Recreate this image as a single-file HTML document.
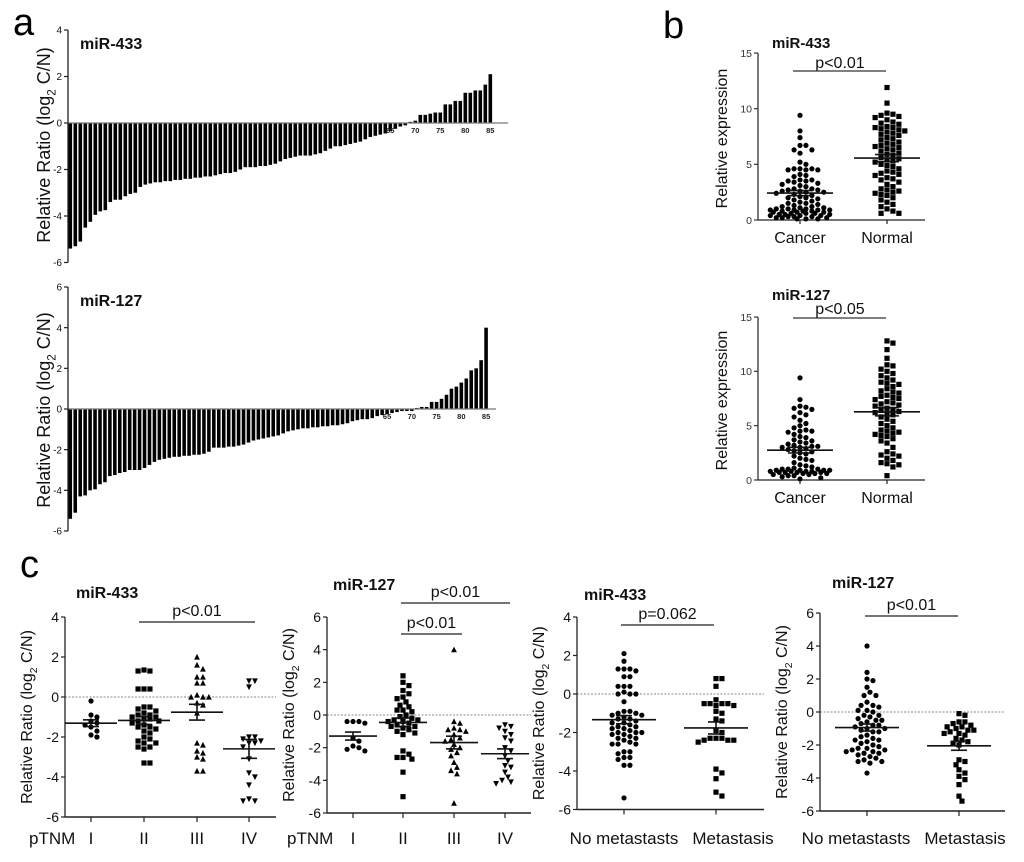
<!DOCTYPE html>
<html><head><meta charset="utf-8"><style>
html,body{margin:0;padding:0;background:#fff;}
svg{display:block;font-family:"Liberation Sans",Arial,sans-serif;}
</style></head><body>
<svg id="fig" width="1024" height="862" viewBox="0 0 1024 862" xmlns="http://www.w3.org/2000/svg">
<rect x="0" y="0" width="1024" height="862" fill="#fff"/>
<text x="13" y="35" font-size="38">a</text>
<text x="663" y="38" font-size="38">b</text>
<text x="20" y="577" font-size="38">c</text>
</svg>
<script>
// ---------- DATA ----------
const waterfall433 = [-5.4,-5.3,-5.1,-4.5,-4.25,-3.95,-3.8,-3.75,-3.4,-3.3,-3.3,-3.15,-3.05,-3.0,-2.75,-2.65,-2.6,-2.55,-2.55,-2.5,-2.5,-2.45,-2.45,-2.4,-2.4,-2.35,-2.35,-2.3,-2.3,-2.25,-2.2,-2.15,-2.15,-2.1,-2.0,-1.9,-1.9,-1.9,-1.85,-1.85,-1.8,-1.75,-1.65,-1.55,-1.5,-1.45,-1.4,-1.4,-1.4,-1.35,-1.3,-1.2,-1.1,-1.0,-1.0,-0.95,-0.9,-0.85,-0.8,-0.7,-0.6,-0.55,-0.5,-0.45,-0.35,-0.25,-0.15,-0.1,0.05,0.1,0.35,0.35,0.4,0.45,0.45,0.8,0.8,0.95,0.95,1.3,1.3,1.4,1.4,1.65,2.1];
const waterfall127 = [-5.4,-5.1,-4.3,-4.25,-4.0,-3.95,-3.7,-3.6,-3.3,-3.25,-3.15,-3.1,-3.0,-3.0,-3.0,-2.9,-2.75,-2.6,-2.5,-2.45,-2.4,-2.35,-2.35,-2.3,-2.3,-2.25,-2.25,-2.2,-2.1,-1.9,-1.9,-1.9,-1.85,-1.85,-1.8,-1.75,-1.65,-1.55,-1.5,-1.45,-1.4,-1.35,-1.3,-1.2,-1.1,-1.05,-1.0,-0.95,-0.95,-0.9,-0.9,-0.85,-0.85,-0.8,-0.8,-0.75,-0.7,-0.6,-0.55,-0.5,-0.5,-0.45,-0.35,-0.3,-0.25,-0.2,-0.15,-0.1,-0.1,-0.1,0.05,0.1,0.1,0.35,0.35,0.5,0.7,1.0,1.1,1.3,1.5,1.9,2.0,2.4,4.0];
const waterfallTicks = [-6,-4,-2,0,2,4];
const waterfall127Ticks = [-6,-4,-2,0,2,4,6];
const waterfallXLabels = [65,70,75,80,85];

const b433Cancer = [9.4,8.0,7.4,6.7,6.7,6.3,6.3,6.0,5.2,5.0,4.6,4.6,4.6,4.5,4.5,4.5,4.0,3.9,3.6,3.6,3.5,3.5,3.3,3.2,3.1,3.0,2.8,2.8,2.7,2.7,2.6,2.6,2.5,2.5,2.4,2.3,2.2,2.0,2.0,1.9,1.8,1.7,1.6,1.5,1.4,1.3,1.2,1.1,1.0,1.0,1.0,0.9,0.9,0.9,0.8,0.8,0.8,0.7,0.7,0.7,0.6,0.6,0.6,0.5,0.5,0.5,0.4,0.4,0.4,0.3,0.3,0.3,0.2,0.2,0.2,0.1,0.1,0.1,1.2,1.5,2.1,3.4,4.1,0.9,1.1];
const b433Normal = [11.9,10.5,9.6,9.5,9.3,9.2,9.0,8.7,8.6,8.4,8.3,8.2,8.1,8.0,7.8,7.6,7.4,7.3,7.2,7.0,6.8,6.6,6.5,6.4,6.2,6.0,5.8,5.6,5.4,5.2,5.0,4.8,4.6,4.4,4.3,4.2,4.0,3.8,3.6,3.4,3.2,3.0,2.8,2.6,2.5,2.4,2.2,2.0,1.8,1.6,1.4,1.2,1.0,0.8,0.6,0.6,7.9,8.8,6.3,5.5,4.1,3.7,2.7,6.9,9.4,5.9,4.9,6.7,7.7,8.3,5.3,2.3];
const b127Cancer = [9.4,7.4,6.8,6.7,6.6,6.5,6.0,5.8,5.5,5.2,4.6,4.5,4.5,4.4,4.2,4.0,3.9,3.6,3.4,3.3,3.2,3.1,3.1,3.0,3.0,2.9,2.8,2.6,2.4,2.2,2.0,1.8,1.6,1.4,1.2,1.1,1.0,1.0,1.0,0.9,0.9,0.9,0.8,0.8,0.8,0.7,0.7,0.7,0.6,0.6,0.5,0.5,0.4,0.3,0.2,0.1,6.2,5.0,3.7,2.5,1.3,0.9,0.8,0.6,4.8,3.5,2.7,1.9,0.7,0.4];
const b127Normal = [12.8,12.6,12.0,11.2,10.6,10.5,10.0,9.8,9.6,9.4,9.0,8.8,8.6,8.4,8.2,8.0,7.8,7.6,7.5,7.4,7.2,7.0,6.8,6.6,6.5,6.4,6.2,6.0,5.8,5.6,5.4,5.0,4.8,4.6,4.4,4.3,4.2,4.0,3.8,3.6,3.4,3.0,2.6,2.4,2.2,2.0,1.8,1.6,1.4,1.2,0.4,8.1,7.1,6.3,5.2,4.5,9.2,7.7,6.9,6.1,4.1,2.3,1.5,10.2,8.9];

const c1_I = [-0.2,-0.9,-1.0,-1.2,-1.3,-1.4,-1.5,-1.7,-1.9,-2.0];
const c1_II = [1.3,1.3,1.35,0.4,0.4,0.4,-0.5,-0.5,-0.6,-0.7,-0.8,-0.9,-1.0,-1.0,-1.1,-1.1,-1.2,-1.2,-1.3,-1.4,-1.5,-1.6,-1.7,-1.8,-2.0,-2.1,-2.2,-2.3,-2.3,-2.5,-2.5,-2.6,-3.3,-3.3,-0.9,-1.5];
const c1_III = [2.0,1.6,1.4,1.0,1.0,0.7,0.7,0.1,0.0,0.0,-0.3,-0.4,-0.8,-2.3,-2.4,-2.7,-2.8,-3.0,-3.1,-3.7,-3.7,0.0];
const c1_IV = [0.8,0.8,0.5,-2.0,-2.0,-2.1,-2.2,-2.3,-2.3,-2.5,-3.1,-3.8,-4.0,-4.4,-5.1,-5.2,-5.2];
const c2_I = [-0.4,-0.4,-0.4,-0.5,-1.4,-1.6,-1.9,-2.0,-2.1,-2.2];
const c2_II = [2.4,2.0,1.8,1.5,1.3,1.1,1.0,0.8,0.6,0.5,0.3,0.2,0.0,-0.1,-0.2,-0.3,-0.4,-0.5,-0.6,-0.7,-0.8,-0.9,-1.0,-1.1,-1.2,-2.2,-2.4,-2.6,-2.6,-2.7,-3.5,-5.0,-0.4,-0.3,-0.7,0.3];
const c2_III = [4.0,-0.4,-0.5,-0.8,-0.9,-1.0,-1.2,-1.4,-1.5,-1.6,-1.8,-2.0,-2.1,-2.3,-2.5,-2.9,-3.2,-3.4,-3.6,-5.4,-0.9];
const c2_IV = [-0.6,-0.7,-0.8,-1.0,-1.2,-1.4,-1.6,-2.0,-2.2,-2.5,-2.8,-3.1,-3.2,-3.5,-3.8,-4.0,-4.1,-4.2];
const c3_NoMet = [2.1,1.7,1.3,1.3,1.3,1.2,0.9,0.9,0.4,0.4,0.4,0.1,0.0,0.0,-0.4,-0.9,-0.9,-1.0,-1.0,-1.1,-1.1,-1.2,-1.3,-1.3,-1.4,-1.5,-1.5,-1.6,-1.7,-1.7,-1.8,-1.8,-1.9,-2.0,-2.0,-2.1,-2.1,-2.2,-2.3,-2.3,-2.4,-2.5,-2.6,-2.6,-3.0,-3.0,-3.1,-3.3,-3.3,-3.4,-3.7,-3.7,-5.4,0.0,-2.6,-2.0];
const c3_Met = [0.8,0.8,0.4,-0.3,-0.5,-0.5,-0.6,-0.5,-0.6,-0.5,-0.9,-1.0,-1.3,-1.4,-1.9,-2.0,-2.3,-2.3,-2.4,-2.4,-2.5,-2.4,-2.3,-3.9,-4.1,-4.4,-5.1,-5.3];
const c4_NoMet = [4.0,2.4,2.0,1.9,1.5,1.2,1.0,1.0,0.6,0.4,0.4,0.3,0.1,0.1,0.0,-0.2,-0.2,-0.4,-0.5,-0.5,-0.6,-0.7,-0.8,-0.8,-0.9,-1.0,-1.0,-1.1,-1.2,-1.2,-1.4,-1.5,-1.6,-1.7,-1.7,-1.8,-2.0,-2.1,-2.2,-2.2,-2.3,-2.3,-2.4,-2.4,-2.5,-2.5,-2.6,-2.7,-2.8,-2.9,-3.0,-3.0,-3.1,-3.7,-1.9,-0.3];
const c4_Met = [-0.1,-0.2,-0.6,-0.6,-0.7,-0.8,-0.9,-0.9,-1.0,-1.1,-1.2,-1.3,-1.4,-1.6,-1.7,-1.8,-1.9,-2.0,-2.9,-3.0,-3.2,-3.5,-3.7,-3.9,-4.1,-4.4,-5.1,-5.4,-1.3,-1.1];

const bTicks = [0,5,10,15];
const c433Ticks = [-6,-4,-2,0,2,4];
const c127Ticks = [-6,-4,-2,0,2,4,6];
const pTNMLabels = ['I','II','III','IV'];
const metLabels = ['No metastasts','Metastasis'];
const bLabels = ['Cancer','Normal'];

// ---------- HELPERS ----------
const NS = 'http://www.w3.org/2000/svg';
const svg = document.getElementById('fig');
function mk(tag, name, parent) {
  const e = document.createElementNS(NS, tag);
  
  
  (parent || svg).appendChild(e);
  return e;
}
function set(e, o) { for (const k in o) e.setAttribute(k, o[k]); return e; }
function lin(d0, d1, r0, r1) { return v => r0 + (v - d0) * (r1 - r0) / (d1 - d0); }
function line(x1, y1, x2, y2, name, stroke, w, dash) {
  const l = mk('line', name);
  set(l, {x1, y1, x2, y2, stroke: stroke || '#222', 'stroke-width': w || 1.3});
  if (dash) l.setAttribute('stroke-dasharray', dash);
  return l;
}
function txt(x, y, s, size, name, anchor, weight, fill) {
  const t = mk('text', name);
  set(t, {x, y, 'font-size': size, 'text-anchor': anchor || 'start', fill: fill || '#111'});
  if (weight) t.setAttribute('font-weight', weight);
  t.textContent = s;
  return t;
}
function ratioTitle(cx, cy, size, name) {
  const t = mk('text', name);
  set(t, {x: 0, y: 0, 'font-size': size, 'text-anchor': 'middle', fill: '#111', transform: `translate(${cx},${cy}) rotate(-90)`});
  const a = document.createElementNS(NS, 'tspan'); a.textContent = 'Relative Ratio (log'; t.appendChild(a);
  const s = document.createElementNS(NS, 'tspan'); s.textContent = '2'; set(s, {dy: size * 0.3, 'font-size': size * 0.65}); t.appendChild(s);
  const c = document.createElementNS(NS, 'tspan'); c.textContent = ' C/N)'; set(c, {dy: -size * 0.3}); t.appendChild(c);
  return t;
}
function yAxis(x, ys, ticks, fs, name, col) {
  line(x, ys(ticks[0]), x, ys(ticks[ticks.length - 1]), name + '-line', col || '#222', 1.3);
  ticks.forEach(v => {
    line(x - 4, ys(v), x, ys(v), name + '-tick', col || '#222', 1.2);
    txt(x - 6, ys(v) + fs * 0.36, String(v), fs, name + '-tick-label', 'end', null, col || '#111');
  });
}
function marker(shape, x, y, name) {
  const r = 2.6;
  let e;
  if (shape === 'circle') { e = mk('circle', name); set(e, {cx: x, cy: y, r: r}); }
  else if (shape === 'square') { e = mk('rect', name); set(e, {x: x - r, y: y - r, width: 2 * r, height: 2 * r}); }
  else if (shape === 'up') { e = mk('polygon', name); set(e, {points: `${x},${y - r - 0.5} ${x - r - 0.3},${y + r} ${x + r + 0.3},${y + r}`}); }
  else { e = mk('polygon', name); set(e, {points: `${x},${y + r + 0.5} ${x - r - 0.3},${y - r} ${x + r + 0.3},${y - r}`}); }
  e.setAttribute('fill', '#000');
}
function swarm(vals, cx, ys, d, shape, name, maxHalf) {
  const pts = vals.map(v => ({v, y: ys(v)})).sort((a, b) => a.y - b.y);
  const placed = [];
  const step = d * 0.55;
  const kmax = Math.floor(maxHalf / step) * 2 + 1;
  pts.forEach(p => {
    let best = null, bestD = -1;
    for (let k = 0; k < kmax; k++) {
      const off = (k % 2 ? 1 : -1) * Math.ceil(k / 2) * step;
      const x = cx + off;
      let md = Infinity;
      placed.forEach(q => { const dd = Math.hypot(q.x - x, q.y - p.y); if (dd < md) md = dd; });
      if (md >= d) { best = x; break; }
      if (md > bestD) { bestD = md; best = x; }
    }
    placed.push({x: best, y: p.y});
  });
  placed.forEach(p => marker(shape, p.x, p.y, name));
}
function meanSem(vals, cx, ys, wMean, wSem, name) {
  const n = vals.length, m = vals.reduce((a, b) => a + b, 0) / n;
  const sd = Math.sqrt(vals.reduce((a, b) => a + (b - m) ** 2, 0) / (n - 1)), se = sd / Math.sqrt(n);
  line(cx - wMean, ys(m), cx + wMean, ys(m), name + '-mean', '#111', 1.6);
  line(cx - wSem, ys(m + se), cx + wSem, ys(m + se), name + '-sem-upper', '#111', 1.6);
  line(cx - wSem, ys(m - se), cx + wSem, ys(m - se), name + '-sem-lower', '#111', 1.6);
  line(cx, ys(m + se), cx, ys(m - se), name + '-sem-stem', '#111', 1.6);
}

// ---------- PANEL A ----------
function waterfall(vals, ticks, ys, x0, step, xEnd, title, titleY, axTitleY, name) {
  txt(80, titleY, title, 16, name + '-title', 'start', 'bold');
  ratioTitle(50, axTitleY, 18, name + '-y-axis-title');
  vals.forEach((v, i) => {
    const b = mk('rect', name + '-bar');
    const y0 = ys(0), y1 = ys(v);
    set(b, {x: x0 + i * step, y: Math.min(y0, y1), width: step * 0.72, height: Math.max(0.6, Math.abs(y1 - y0)), fill: '#000'});
  });
  line(68, ys(0), xEnd, ys(0), name + '-x-axis', '#777', 1.2);
  yAxis(68, ys, ticks, 10, name + '-y-axis');
  waterfallXLabels.forEach(n => txt(x0 + (n - 1) * step + step * 0.36, ys(0) + 10, String(n), 7.5, name + '-x-tick-label', 'middle', 'bold', '#222'));
}
waterfall(waterfall433, waterfallTicks, lin(0, 4, 123, 30), 68.5, 5.0, 508, 'miR-433', 49, 145, 'bar-chart-mir433');
waterfall(waterfall127, waterfall127Ticks, lin(0, 6, 409, 287), 68.5, 4.95, 496, 'miR-127', 306, 410, 'bar-chart-mir127');

// ---------- PANEL B ----------
function bPanel(cancer, normal, ys, title, titleY, p, pY, lineY, name) {
  txt(772, titleY, title, 15, name + '-title', 'start', 'bold');
  txt(840, pY, p, 16, name + '-p-value', 'middle');
  line(793, lineY, 886, lineY, name + '-significance-bar', '#333', 1.2);
  const t = mk('text', name + '-y-axis-title');
  set(t, {x: 0, y: 0, 'font-size': 16, 'text-anchor': 'middle', fill: '#111', transform: `translate(727,${(ys(0) + ys(15)) / 2 + 2}) rotate(-90)`});
  t.textContent = 'Relative expression';
  yAxis(758, ys, bTicks, 10.5, name + '-y-axis', '#333');
  line(758, ys(0), 925, ys(0), name + '-x-axis', '#222', 1.3);
  [800, 887].forEach((cx, i) => {
    line(cx, ys(0), cx, ys(0) + 4, name + '-x-tick', '#222', 1.2);
    txt(cx, ys(0) + 23, bLabels[i], 16, name + '-x-tick-label', 'middle');
  });
  swarm(cancer, 800, ys, 5.4, 'circle', name + '-cancer-point', 30);
  swarm(normal, 887, ys, 5.4, 'square', name + '-normal-point', 30);
  meanSem(cancer, 800, ys, 33, 12, name + '-cancer');
  meanSem(normal, 887, ys, 33, 12, name + '-normal');
}
bPanel(b433Cancer, b433Normal, lin(0, 15, 220, 53), 'miR-433', 48, 'p<0.01', 68, 71, 'scatter-b-mir433');
bPanel(b127Cancer, b127Normal, lin(0, 15, 480, 317), 'miR-127', 300, 'p<0.05', 314, 318, 'scatter-b-mir127');

// ---------- PANEL C ----------
function cPanel(cfg) {
  const ys = cfg.ys, n = cfg.name;
  txt(cfg.titleX, cfg.titleY, cfg.title, 16, n + '-title', 'start', 'bold');
  ratioTitle(cfg.axX - 33, (ys(cfg.ticks[0]) + ys(cfg.ticks[cfg.ticks.length - 1])) / 2, 16, n + '-y-axis-title');
  line(cfg.axX, ys(0), cfg.axEnd, ys(0), n + '-zero-line', '#888', 1, '2,1.5');
  yAxis(cfg.axX, ys, cfg.ticks, 14, n + '-y-axis');
  line(cfg.axX, ys(cfg.ticks[0]), cfg.axEnd, ys(cfg.ticks[0]), n + '-x-axis', '#222', 1.4);
  cfg.groups.forEach((g, i) => {
    const cx = cfg.xs[i];
    line(cx, ys(cfg.ticks[0]), cx, ys(cfg.ticks[0]) + 5, n + '-x-tick', '#222', 1.2);
    txt(cfg.lx ? cfg.lx[i] : cx, 844, cfg.labels[i], 17, n + '-x-tick-label', 'middle');
    swarm(g, cx, ys, 5.4, cfg.shapes[i], n + '-point', cfg.half);
    meanSem(g, cx, ys, cfg.wMean, 8, n + '-group' + (i + 1));
  });
  if (cfg.prefix) txt(cfg.prefixX, 844, cfg.prefix, 17, n + '-x-label-prefix', 'start');
  cfg.sigs.forEach(s => {
    txt((s[0] + s[1]) / 2, s[2] - 6, s[3], 16, n + '-p-value', 'middle');
    line(s[0], s[2], s[1], s[2], n + '-significance-bar', '#222', 1.2);
  });
}
cPanel({name: 'scatter-c-pTNM-mir433', ys: lin(0, 4, 697, 617), ticks: c433Ticks, axX: 65, axEnd: 276,
  xs: [91, 144, 197, 249], groups: [c1_I, c1_II, c1_III, c1_IV], shapes: ['circle', 'square', 'up', 'down'],
  labels: pTNMLabels, prefix: 'pTNM', prefixX: 29, title: 'miR-433', titleX: 76, titleY: 598, wMean: 26, half: 16,
  sigs: [[139, 255, 622, 'p<0.01']]});
cPanel({name: 'scatter-c-pTNM-mir127', ys: lin(0, 6, 715, 617), ticks: c127Ticks, axX: 327, axEnd: 531,
  xs: [353, 403, 454, 505], groups: [c2_I, c2_II, c2_III, c2_IV], shapes: ['circle', 'square', 'up', 'down'],
  labels: pTNMLabels, prefix: 'pTNM', prefixX: 287, title: 'miR-127', titleX: 333, titleY: 590, wMean: 24, half: 16,
  sigs: [[401, 510, 603, 'p<0.01'], [401, 462, 634, 'p<0.01']]});
cPanel({name: 'scatter-c-met-mir433', ys: lin(0, 4, 694, 617), ticks: c433Ticks, axX: 577, axEnd: 764,
  xs: [624, 716], lx: [624, 733], groups: [c3_NoMet, c3_Met], shapes: ['circle', 'square'],
  labels: metLabels, title: 'miR-433', titleX: 584, titleY: 600, wMean: 32, half: 24,
  sigs: [[621, 714, 625, 'p=0.062']]});
cPanel({name: 'scatter-c-met-mir127', ys: lin(0, 6, 712, 613), ticks: c127Ticks, axX: 820, axEnd: 1005,
  xs: [867, 959], lx: [856, 965], groups: [c4_NoMet, c4_Met], shapes: ['circle', 'square'],
  labels: metLabels, title: 'miR-127', titleX: 832, titleY: 588, wMean: 32, half: 24,
  sigs: [[865, 958, 616, 'p<0.01']]});
</script>
</body></html>
